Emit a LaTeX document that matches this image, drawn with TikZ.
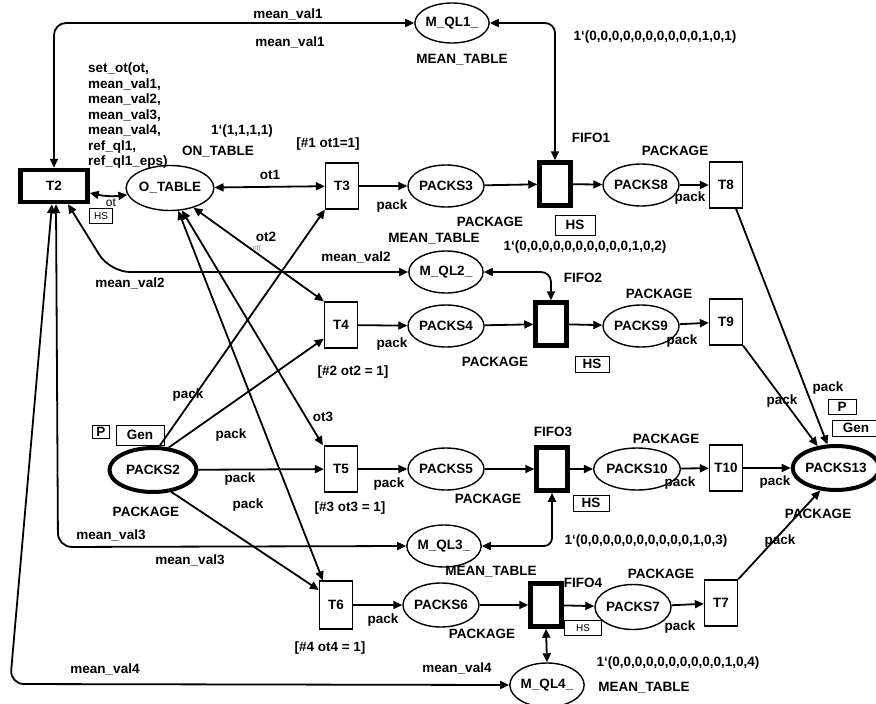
\documentclass[tikz,border=0pt]{standalone}
\usepackage{fontspec}
\setmainfont{Liberation Sans}
\usetikzlibrary{arrows.meta,shapes.geometric}
\tikzset{
 lbl/.style={inner sep=0pt},
 tbox/.style={draw,rectangle,line width=1.3pt,minimum width=33pt,minimum height=46pt,inner sep=0pt},
 fbox/.style={draw,rectangle,line width=4.5pt,minimum width=31pt,minimum height=43pt,inner sep=0pt},
 pl/.style={draw,ellipse,line width=1.4pt,minimum width=73pt,minimum height=42pt,inner sep=0pt},
 tpl/.style={pl,line width=4pt},
 arc/.style={line width=1.8pt,-{Triangle[length=9pt,width=8pt]}},
 dbl/.style={line width=1.8pt,{Triangle[length=9pt,width=8pt]}-{Triangle[length=9pt,width=8pt]}},
 hsbox/.style={draw,line width=0.8pt,minimum width=34pt,minimum height=16pt,inner sep=0pt},
 smallbox/.style={draw,line width=0.8pt,inner sep=0pt,font=\fontsize{10}{12}\selectfont\mdseries},
}
\begin{document}
\begin{tikzpicture}[x=1pt,y=-1pt,font=\fontsize{13.5}{15.5}\selectfont\bfseries]
\useasboundingbox (0,0) rectangle (876,704);
% places and transitions
\node[tbox,line width=4.5pt,minimum width=67pt,minimum height=32pt] (t2) at (54,186) {T2};
\node[pl,minimum width=73pt,minimum height=45pt] (ot) at (170,188) {O\_TABLE};
\node[tbox] (t3) at (342,186) {T3};
\node[pl] (pk3) at (446,186) {PACKS3};
\node[fbox] (f1) at (555,184) {};
\node[pl] (pk8) at (641,185) {PACKS8};
\node[tbox] (t8) at (726,185) {T8};
\node[pl,minimum width=72pt,minimum height=40pt] (mq1) at (452,23) {M\_QL1\_};
\node[pl] (mq2) at (446,272) {M\_QL2\_};
\node[tbox] (t4) at (341,325) {T4};
\node[pl] (pk4) at (446,326) {PACKS4};
\node[fbox] (f2) at (551,324) {};
\node[pl] (pk9) at (641,326) {PACKS9};
\node[tbox] (t9) at (726,322) {T9};
\node[tpl,minimum width=87pt,minimum height=44pt] (pk2) at (153,470) {PACKS2};
\node[tbox] (t5) at (341,469) {T5};
\node[pl] (pk5) at (446,469) {PACKS5};
\node[fbox] (f3) at (552,469) {};
\node[pl,minimum width=76pt] (pk10) at (637,469) {PACKS10};
\node[tbox] (t10) at (726,468) {T10};
\node[tpl,minimum width=86pt,minimum height=44pt] (pk13) at (836,468) {PACKS13};
\node[pl] (mq3) at (444,546) {M\_QL3\_};
\node[tbox,minimum height=48pt] (t6) at (336,605) {T6};
\node[pl,minimum height=44pt] (pk6) at (441,605) {PACKS6};
\node[fbox] (f4) at (546,605) {};
\node[pl,minimum width=76pt,minimum height=45pt] (pk7) at (633,607) {PACKS7};
\node[tbox] (t7) at (721,603) {T7};
\node[pl,minimum width=70pt,minimum height=44pt] (mq4) at (547,685) {M\_QL4\_};
% connectors
\draw[dbl,rounded corners=12pt] (t2.north) |- (mq1.west);
\draw[dbl,rounded corners=10pt] (mq1.east) -| (f1.north);
\draw[dbl] (t2) to[bend right=10] (ot);
\draw[dbl] (ot) -- (t3);
\draw[dbl] (ot.-40) -- (t4.north west);
\draw[dbl] (ot.-62) -- ([xshift=-1pt]t5.north west);
\draw[dbl] (ot.-70) -- ([xshift=4pt]t6.north west);
\draw[dbl,rounded corners=20pt] ([xshift=14pt]t2.south) -- (110,272) -- (mq2.west);
\draw[dbl,rounded corners=10pt] (mq2.east) -| (f2.north);
\draw[dbl,rounded corners=14pt] ([xshift=2pt]t2.south) -- (58,547) -- (mq3.west);
\draw[dbl,rounded corners=8pt] (mq3.east) -| (f3.south);
\draw[dbl,rounded corners=14pt] ([xshift=-2pt]t2.south) -- (10,684) -- (mq4.west);
\draw[dbl] (f4.south) -- (mq4.north);
\draw[arc] (pk2.75) -- (t3.south west);
\draw[arc] (pk2.55) -- ([yshift=10pt]t4.south west);
\draw[arc] (pk2) -- (t5);
\draw[arc] (pk2.-50) -- ([yshift=15pt]t6.west);
\draw[arc] (t3) -- (pk3);
\draw[arc] (pk3) -- (f1);
\draw[arc] (f1) -- (pk8);
\draw[arc] (pk8) -- (t8);
\draw[arc] ([xshift=10pt]t8.south) -- (pk13.110);
\draw[arc] (t4) -- (pk4);
\draw[arc] (pk4) -- (f2);
\draw[arc] (f2) -- (pk9);
\draw[arc] (pk9) -- (t9);
\draw[arc] (t9.south east) -- (pk13.130);
\draw[arc] (t5) -- (pk5);
\draw[arc] (pk5) -- (f3);
\draw[arc] (f3) -- (pk10);
\draw[arc] (pk10) -- (t10);
\draw[arc] (t10) -- (pk13);
\draw[arc] (t6) -- (pk6);
\draw[arc] (pk6) -- (f4);
\draw[arc] (f4) -- (pk7);
\draw[arc] (pk7) -- (t7);
\draw[arc] (t7.north east) -- (pk13.-125);
% labels
\node[lbl] (l1) at (288,14) {mean\_val1};
\node[lbl] (l2) at (290,42) {mean\_val1};
\node[lbl] (l3) at (462,60) {MEAN\_TABLE};
\node[lbl] (l4) at (655,37) {1`(0,0,0,0,0,0,0,0,0,0,1,0,1)};
\node[lbl,anchor=north west,align=left] (setot) at (88,63) {set\_ot(ot,\\mean\_val1,\\mean\_val2,\\mean\_val3,\\mean\_val4,\\ref\_ql1,\\ref\_ql1\_eps)};
\node[lbl] (l5) at (242,131) {1`(1,1,1,1)};
\node[lbl] (l6) at (218,152) {ON\_TABLE};
\node[lbl] (l7) at (328,144) {[\#1 ot1=1]};
\node[lbl] (l8) at (270,175) {ot1};
\node[lbl] (l9) at (591,138) {FIFO1};
\node[lbl] (l10) at (675,151) {PACKAGE};
\node[lbl,font=\fontsize{12}{14}\selectfont\mdseries] (l11) at (111,203) {ot};
\node[smallbox,minimum width=23pt,minimum height=15pt] (hs0) at (101,216) {HS};
\node[lbl] (l12) at (392,206) {pack};
\node[lbl] (l13) at (690,198) {pack};
\node[lbl] (l14) at (490,222) {PACKAGE};
\node[hsbox,minimum width=40pt,minimum height=20pt] (hs1) at (575,225) {HS};
\node[lbl] (l15) at (434,239) {MEAN\_TABLE};
\node[lbl] (l16) at (585,247) {1`(0,0,0,0,0,0,0,0,0,0,1,0,2)};
\node[lbl] (l17) at (266,237) {ot2};
\node[lbl,font=\fontsize{7}{8}\selectfont\mdseries,text=gray] (l18) at (257,249) {nf(};
\node[lbl] (l19) at (356,257) {mean\_val2};
\node[lbl] (l20) at (130,283) {mean\_val2};
\node[lbl] (l21) at (583,278) {FIFO2};
\node[lbl] (l22) at (659,294) {PACKAGE};
\node[lbl] (l23) at (392,344) {pack};
\node[lbl] (l24) at (682,341) {pack};
\node[lbl] (l25) at (495,362) {PACKAGE};
\node[hsbox] (hs2) at (592,364) {HS};
\node[lbl] (l26) at (353,372) {[\#2 ot2 = 1]};
\node[lbl] (l27) at (188,395) {pack};
\node[lbl] (l28) at (231,435) {pack};
\node[lbl] (l29) at (828,388) {pack};
\node[lbl] (l30) at (782,401) {pack};
\node[draw,line width=0.8pt,minimum width=17pt,minimum height=13pt,inner sep=0pt] (p1) at (101,432) {P};
\node[draw,line width=0.8pt,minimum width=48pt,minimum height=20pt,inner sep=0pt] (g1) at (140,435) {Gen};
\node[draw,line width=0.8pt,minimum width=28pt,minimum height=15pt,inner sep=0pt] (p2) at (842,407) {P};
\node[draw,line width=0.8pt,minimum width=48pt,minimum height=16pt,inner sep=0pt] (g2) at (856,428) {Gen};
\node[lbl] (l31) at (323,417) {ot3};
\node[lbl] (l32) at (553,432) {FIFO3};
\node[lbl] (l33) at (666,439) {PACKAGE};
\node[lbl] (l34) at (240,479) {pack};
\node[lbl] (l35) at (389,484) {pack};
\node[lbl] (l36) at (680,483) {pack};
\node[lbl] (l37) at (775,482) {pack};
\node[lbl] (l38) at (488,499) {PACKAGE};
\node[hsbox,minimum width=36pt] (hs3) at (591,503) {HS};
\node[lbl] (l39) at (248,505) {pack};
\node[lbl] (l40) at (350,508) {[\#3 ot3 = 1]};
\node[lbl] (l41) at (146,512) {PACKAGE};
\node[lbl] (l42) at (818,514) {PACKAGE};
\node[lbl] (l43) at (111,535) {mean\_val3};
\node[lbl] (l44) at (190,560) {mean\_val3};
\node[lbl] (l45) at (646,541) {1`(0,0,0,0,0,0,0,0,0,0,1,0,3)};
\node[lbl] (l46) at (780,541) {pack};
\node[lbl] (l47) at (491,572) {MEAN\_TABLE};
\node[lbl] (l48) at (661,574) {PACKAGE};
\node[lbl] (l49) at (583,583) {FIFO4};
\node[lbl] (l50) at (383,620) {pack};
\node[lbl] (l51) at (680,627) {pack};
\node[smallbox,minimum width=37pt,minimum height=15pt] (hs4) at (583,628) {HS};
\node[lbl] (l52) at (482,634) {PACKAGE};
\node[lbl] (l53) at (330,648) {[\#4 ot4 = 1]};
\node[lbl] (l54) at (678,663) {1`(0,0,0,0,0,0,0,0,0,0,1,0,4)};
\node[lbl] (l55) at (105,669) {mean\_val4};
\node[lbl] (l56) at (457,668) {mean\_val4};
\node[lbl] (l57) at (644,688) {MEAN\_TABLE};
\end{tikzpicture}
\end{document}
